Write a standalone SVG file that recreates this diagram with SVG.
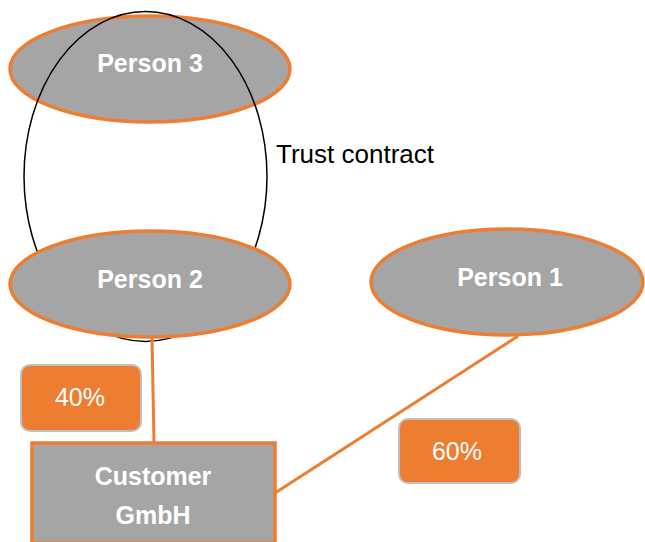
<svg xmlns="http://www.w3.org/2000/svg" width="645" height="542" viewBox="0 0 645 542">
<style>
.person{fill:#A5A5A5;stroke:#ED7D31;stroke-width:3.5}
.ptxt{font-family:"Liberation Sans",Arial,sans-serif;font-weight:bold;font-size:25px;fill:#FFFFFF;text-anchor:middle}
.pct{fill:#ED7D31;stroke:#BFBFBF;stroke-width:2}
.pcttxt{font-family:"Liberation Sans",Arial,sans-serif;font-size:25px;fill:#FFFFFF;text-anchor:middle}
.conn{stroke:#ED7D31;stroke-width:3;fill:none}
</style>
<rect width="645" height="542" fill="#FFFFFF"/>
<g id="person3">
<ellipse class="person" cx="150" cy="69" rx="140" ry="53"/>
<text class="ptxt" x="150" y="72">Person 3</text>
</g>
<g id="connectors">
<ellipse cx="145.5" cy="176.5" rx="121.5" ry="165" fill="none" stroke="#000000" stroke-width="1.5"/>
<line class="conn" x1="152" y1="338" x2="154" y2="443"/>
<line class="conn" x1="518" y1="336" x2="275" y2="493"/>
</g>
<g id="trust-label">
<text x="276" y="163" font-family="Liberation Sans,Arial,sans-serif" font-size="26" fill="#000000">Trust contract</text>
</g>
<g id="person2">
<ellipse class="person" cx="150" cy="284" rx="140" ry="53"/>
<text class="ptxt" x="150" y="288">Person 2</text>
</g>
<g id="person1">
<ellipse class="person" cx="507" cy="282" rx="136" ry="53"/>
<text class="ptxt" x="510" y="286">Person 1</text>
</g>
<g id="customer">
<rect x="32" y="443" width="243" height="100" fill="#A5A5A5" stroke="#ED7D31" stroke-width="3.5"/>
<text class="ptxt" x="153" y="485">Customer</text>
<text class="ptxt" x="153" y="524">GmbH</text>
</g>
<g id="label40">
<rect class="pct" x="21" y="365" width="120" height="66" rx="9"/>
<text class="pcttxt" x="80" y="406">40%</text>
</g>
<g id="label60">
<rect class="pct" x="399" y="419" width="121" height="64" rx="9"/>
<text class="pcttxt" x="457" y="460">60%</text>
</g>
</svg>
